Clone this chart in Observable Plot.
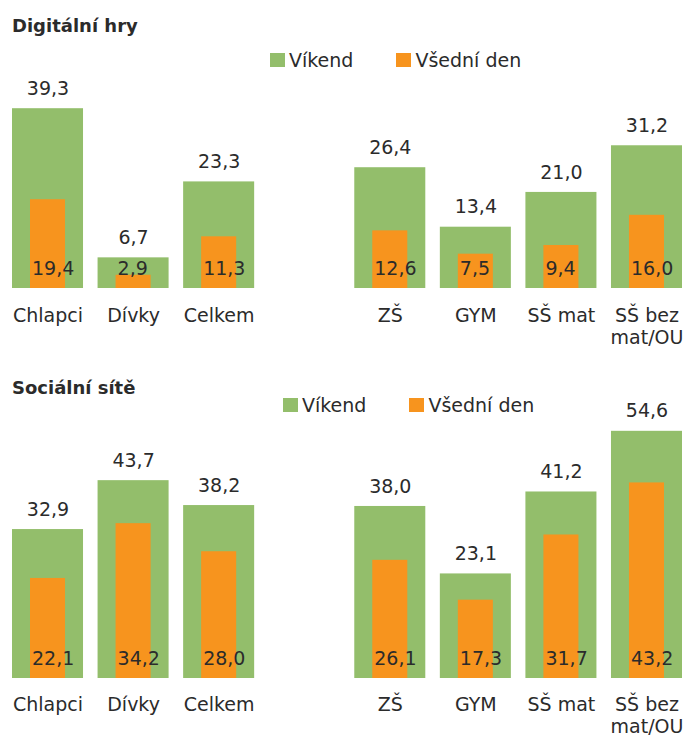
<!DOCTYPE html>
<html><head><meta charset="utf-8">
<script src="https://cdn.jsdelivr.net/npm/d3@7"></script>
<script src="https://cdn.jsdelivr.net/npm/@observablehq/plot@0.6"></script>
<style>
body{margin:0;background:#fff;font-family:"DejaVu Sans",sans-serif;color:#2b2b2b}
#wrap{position:relative;width:694px;height:736px;overflow:hidden}
.title{position:absolute;left:12px;font-weight:bold;font-size:18px;line-height:20px;white-space:nowrap}
.legend{position:absolute;display:flex;align-items:center;font-size:19px;line-height:20px;height:20px;white-space:nowrap}
.sw{width:15px;height:14px;display:inline-block;margin-right:4px}
.item{display:flex;align-items:center;margin-right:43px}
.panel{position:absolute;left:0}
</style></head><body>
<div id="wrap"></div>
<script>
const barCategories = ["Chlapci","Dívky","Celkem","ZŠ","GYM","SŠ mat","SŠ bez\nmat/OU"];
const xDomain = ["Chlapci","Dívky","Celkem"," ","ZŠ","GYM","SŠ mat","SŠ bez\nmat/OU"];
const seriesNames = ["Víkend","Všední den"];
const hryVikend  = [39.3, 6.7, 23.3, 26.4, 13.4, 21.0, 31.2];
const hryVsedni  = [19.4, 2.9, 11.3, 12.6, 7.5, 9.4, 16.0];
const siteVikend = [32.9, 43.7, 38.2, 38.0, 23.1, 41.2, 54.6];
const siteVsedni = [22.1, 34.2, 28.0, 26.1, 17.3, 31.7, 43.2];
const panelTitles = ["Digitální hry","Sociální sítě"];

const GREEN = "#93BE6B", ORANGE = "#F7941E", INK = "#2b2b2b";
const fmt = v => d3.format(".1f")(v).replace(".", ",");

function panel({vikend, vsedni, yMax, height, marginTop, marginBottom, labelDy}) {
  const rows = barCategories.map((c, i) => ({cat: c, vikend: vikend[i], vsedni: vsedni[i]}));
  return Plot.plot({
    width: 694, height, marginTop, marginBottom, marginLeft: 12, marginRight: 12,
    x: {domain: xDomain, paddingInner: 0.17, paddingOuter: 0, round: false, axis: null},
    y: {domain: [0, yMax], axis: null},
    style: {fontFamily: "DejaVu Sans, sans-serif", fontSize: "19px", color: INK, overflow: "visible", background: "transparent"},
    marks: [
      Plot.barY(rows, {x: "cat", y: "vikend", fill: GREEN}),
      Plot.barY(rows, {x: "cat", y: "vsedni", fill: ORANGE, insetLeft: 18, insetRight: 18}),
      Plot.text(rows, {x: "cat", y: "vikend", text: d => fmt(d.vikend), dy: -20, lineAnchor: "middle", fill: INK, fontSize: 19}),
      Plot.text(rows, {x: "cat", y: () => 0, text: d => fmt(d.vsedni), dx: -16, dy: -20, textAnchor: "start", lineAnchor: "middle", fill: INK, fontSize: 19}),
      Plot.text(rows, {x: "cat", y: () => 0, text: "cat", dy: labelDy, lineAnchor: "top", lineHeight: 1.2, fill: INK, fontSize: 19})
    ]
  });
}

const wrap = document.getElementById("wrap");
function place(el, top) { const d = document.createElement("div"); d.className = "panel"; d.style.top = top + "px"; d.appendChild(el); wrap.appendChild(d); }

place(panel({vikend: hryVikend, vsedni: hryVsedni, yMax: 40, height: 288, marginTop: 33, marginBottom: 72, labelDy: 17}), 72);
place(panel({vikend: siteVikend, vsedni: siteVsedni, yMax: 55, height: 344, marginTop: 37, marginBottom: 58, labelDy: 16}), 392);

function title(text, top) {
  const t = document.createElement("div"); t.className = "title"; t.style.top = top + "px"; t.textContent = text; wrap.appendChild(t);
}
function legend(left, top) {
  const l = document.createElement("div"); l.className = "legend"; l.style.left = left + "px"; l.style.top = top + "px";
  [GREEN, ORANGE].forEach((c, i) => {
    const it = document.createElement("div"); it.className = "item";
    const sw = document.createElement("span"); sw.className = "sw"; sw.style.background = c;
    const tx = document.createElement("span"); tx.textContent = seriesNames[i];
    it.appendChild(sw); it.appendChild(tx); l.appendChild(it);
  });
  wrap.appendChild(l);
}
title(panelTitles[0], 16);
legend(270, 50);
title(panelTitles[1], 378);
legend(283, 395);
</script>
</body></html>
